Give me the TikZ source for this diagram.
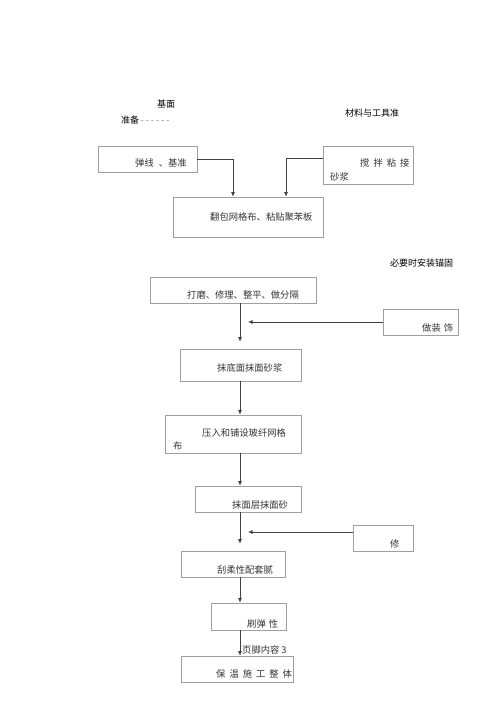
\documentclass[tikz,border=0pt]{standalone}
\usepackage{fontspec}
\setmainfont{Noto Sans CJK SC}
\usetikzlibrary{arrows.meta}
\newcommand{\gp}[1][4pt]{\hspace{#1}}

\begin{document}
\begin{tikzpicture}[x=1pt, y=-1pt,
		box/.style = {draw=gray!75, line width=0.6pt, rectangle, inner sep=0pt},
		txt/.style = {anchor=west, inner sep=0pt, text=black!80,
				font=\fontsize{9.3}{11}\selectfont},
		note/.style = {anchor=west, inner sep=0pt, text=black,
				font=\fontsize{9}{11}\selectfont},
		flow/.style = {->, black!75, line width=0.8pt},
		>={Latex[length=4.5pt, width=4pt]}
	]
	\useasboundingbox (0,0) rectangle (500,707);
	\coordinate (axis) at (240,0);

	% boxes
	\node[box, minimum width=99pt, minimum height=26pt] (b1) at (147.5,159) {};
	\node[box, minimum width=90pt, minimum height=38pt] (b2) at (368,165) {};
	\node[box, minimum width=150pt, minimum height=40pt] (b3) at (248,217) {};
	\node[box, minimum width=166pt, minimum height=26pt] (b4) at (233,290) {};
	\node[box, minimum width=75pt, minimum height=26pt] (deco) at (420.5,322) {};
	\node[box, minimum width=121pt, minimum height=32pt] (b5) at (240.5,365) {};
	\node[box, minimum width=136pt, minimum height=38pt] (b7) at (233,434) {};
	\node[box, minimum width=106pt, minimum height=26pt] (b8) at (248,499) {};
	\node[box, minimum width=60pt, minimum height=26pt] (fix) at (383,538) {};
	\node[box, minimum width=104pt, minimum height=26pt] (b10) at (233,564) {};
	\node[box, minimum width=75pt, minimum height=27pt] (b11) at (248.5,616.5) {};
	\node[box, minimum width=112pt, minimum height=26pt] (b12) at (237,669) {};

	% texts
	\node[note] (base) at (157,104) {基面};
	\node[note] (prep) at (121,120) {准备\textcolor{gray}{\,- - - - - -}};
	\node[note] (tools) at (345,113) {材料与工具准};
	\node[note] (anchor) at (390,263) {必要时安装锚固};
	\node[txt] (t1) at (135,163) {弹线\gp[5pt]、基准};
	\node[txt] (t2a) at (360,163) {搅\gp 拌\gp 粘\gp 接};
	\node[txt] (t2b) at (330,177) {砂浆};
	\node[txt] (t3) at (210,217) {翻包网格布、粘贴聚苯板};
	\node[txt] (t4) at (187,295) {打磨、修理、整平、做分隔};
	\node[txt] (t6) at (422,328) {做装\gp[3pt]饰};
	\node[txt] (t5) at (217,368) {抹底面抹面砂浆};
	\node[txt] (t7a) at (202,433) {压入和铺设玻纤网格};
	\node[txt] (t7b) at (173,446) {布};
	\node[txt] (t8) at (232,505) {抹面层抹面砂};
	\node[txt] (t9) at (390,544) {修};
	\node[txt] (t10) at (217,570) {刮柔性配套腻};
	\node[txt] (t11) at (247,624) {刷弹\gp[3pt]性};
	\node[txt] (t12) at (216,674) {保\gp 温\gp 施\gp 工\gp 整\gp 体};
	\node[txt] (foot) at (242,650) {页脚内容 3};

	% connectors
	\draw[flow] (b1.east) -| ([xshift=-15pt]b3.north);
	\draw[flow] ([yshift=7pt]b2.west) -| ([xshift=38pt]b3.north);
	\draw[flow] (b4.south -| axis) -- ([yshift=7pt]b5.north -| axis);
	\draw[flow] (deco.west) -- ([xshift=8pt]deco.west -| axis);
	\draw[flow] (b8.south -| axis) -- ([yshift=7pt]b10.north -| axis);
	\draw[flow] ([yshift=6pt]fix.west) -- ([yshift=6pt, xshift=8pt]fix.west -| axis);
	\foreach \a/\b in {b5/b7, b7/b8, b10/b11, b11/b12} {
			\draw[flow] (\a.south -| axis) -- (\b.north -| axis);
		}
\end{tikzpicture}
\end{document}
